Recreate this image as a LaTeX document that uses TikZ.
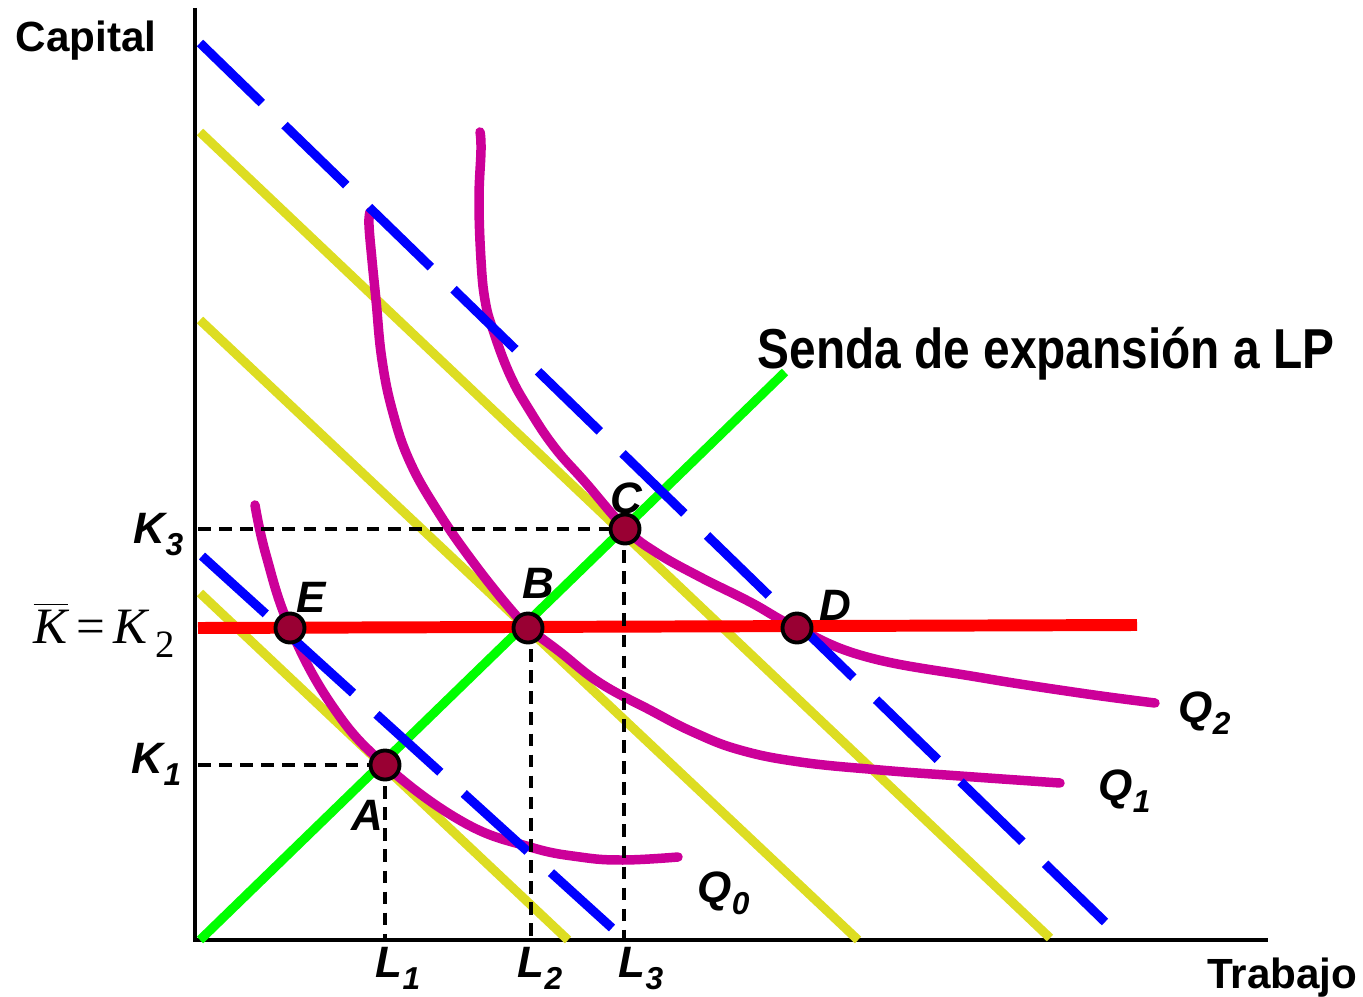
\documentclass[tikz,border=0pt]{standalone}
\usepackage{fontspec}
\setmainfont{Liberation Sans}
\newfontfamily\timesfont{Liberation Serif}
\definecolor{isoq}{HTML}{CC0099}
\definecolor{costline}{HTML}{DDDD22}
\definecolor{dotred}{HTML}{990033}
\tikzset{
  isoquant/.style={line width=2.7pt, isoq, line cap=round, line join=round},
  isocost/.style={line width=2.6pt, costline},
  isoblue/.style={line width=2.6pt, blue, dash pattern=on 24.5pt off 9pt},
  guide/.style={line width=1.1pt, dash pattern=on 3.6pt off 2.4pt},
  eqpoint/.style={circle, draw=black, line width=1.1pt, fill=dotred, minimum size=0.29cm, inner sep=0pt},
  ptlabel/.style={inner sep=0pt, font=\fontsize{12.5}{13}\selectfont\bfseries\itshape},
  axlabel/.style={inner sep=0pt, font=\fontsize{12}{14}\selectfont\bfseries},
}
\newcommand{\sublbl}[2]{#1\raisebox{-0.55ex}{\fontsize{9}{9}\selectfont #2}}
\begin{document}
\begin{tikzpicture}[x=0.01cm, y=-0.01cm]
    \useasboundingbox (0,0) rectangle (1363,997);

    % Axes
    \coordinate (O) at (195,940);
    \draw[line width=1.4pt] (195,8) -- (O) -- (1268,940);
    \node[axlabel, anchor=base west] (capital) at (15,52) {Capital};
    \node[axlabel, anchor=base east] (trabajo) at (1358,988) {Trabajo};

    % Isocost lines (yellow)
    \draw[isocost] (200,132) -- (1050,938);
    \draw[isocost] (200,320) -- (858,940);
    \draw[isocost] (200,593) -- (568,940);

    % Isoquants Q0, Q1, Q2
    \draw[isoquant] plot[smooth, tension=0.7] coordinates {(255,505) (266,555) (290,628)
        (333,707) (385,765) (463,822) (530,847) (580,857) (623,860) (678,857)};
    \draw[isoquant] plot[smooth, tension=0.7] coordinates {(370,212) (369,225) (372,260) (376,300)
        (382,360) (393,413) (410,462) (437,510) (470,558) (507,605)
        (529,628) (560,652) (600,683) (650,710) (693,732) (740,750) (800,762) (880,770) (960,776) (1060,783)};
    \draw[isoquant] plot[smooth, tension=0.7] coordinates {(480,132) (481,150) (479,200) (481,260)
        (485,300) (493,330) (510,375) (530,411) (555,448) (585,482) (626,529)
        (657,553) (700,577) (750,602) (797,628) (867,657) (977,677) (1080,693) (1155,703)};

    % Long-run expansion path
    \draw[line width=2.6pt, green] (200,940) -- (785,372);
    \node[inner sep=0pt, anchor=base west] (senda) at (757,369)
        {\scalebox{0.85}[1]{\fontsize{16}{18}\selectfont\bfseries Senda de expansión a LP}};

    % Blue dashed isocosts
    \draw[isoblue] (200,43) -- (1105,922);
    \draw[isoblue] (202,556) -- (612,928);

    % Fixed capital (short run)
    \draw[line width=3.4pt, red] (198,628) -- (1137,625);

    % Guides to the axes
    \coordinate (K3) at (198,529);
    \coordinate (K1) at (198,765);
    \coordinate (L1) at (385,940);
    \coordinate (L2) at (531,940);
    \coordinate (L3) at (624,940);
    \draw[guide] (K3) -- (625,529);
    \draw[guide] (624,529) -- (L3);
    \draw[guide] (K1) -- (385,765);
    \draw[guide] (385,765) -- (L1);
    \draw[guide] (531,628) -- (L2);

    % Equilibrium points
    \node[eqpoint] (E) at (290,628) {};
    \node[eqpoint] (B) at (528,628) {};
    \node[eqpoint] (D) at (797,628) {};
    \node[eqpoint] (C) at (625,529) {};
    \node[eqpoint] (A) at (385,765) {};

    % Labels
    \node[ptlabel] (labA) at (367,815) {A};
    \node[ptlabel] (labB) at (538,583) {B};
    \node[ptlabel] (labC) at (626,498) {C};
    \node[ptlabel] (labD) at (835,605) {D};
    \node[ptlabel] (labE) at (311,597) {E};
    \node[ptlabel, anchor=base east] (labK3) at (184,543) {\sublbl{K}{3}};
    \node[ptlabel, anchor=base east] (labK1) at (182,773) {\sublbl{K}{1}};
    \node[ptlabel, anchor=base west] (labL1) at (375,977) {\sublbl{L}{1}};
    \node[ptlabel, anchor=base west] (labL2) at (517,977) {\sublbl{L}{2}};
    \node[ptlabel, anchor=base west] (labL3) at (618,977) {\sublbl{L}{3}};
    \node[ptlabel, anchor=base west] (labQ0) at (697,902) {\sublbl{Q}{0}};
    \node[ptlabel, anchor=base west] (labQ1) at (1098,800) {\sublbl{Q}{1}};
    \node[ptlabel, anchor=base west] (labQ2) at (1178,722) {\sublbl{Q}{2}};
    \node[inner sep=0pt, anchor=base west] (kbar) at (33,643)
        {\timesfont\fontsize{14.5}{15}\selectfont$\overline{\mbox{\itshape K}}$\,=\,{\itshape K}\,\raisebox{-0.6ex}{\fontsize{11}{11}\selectfont 2}};
\end{tikzpicture}
\end{document}
